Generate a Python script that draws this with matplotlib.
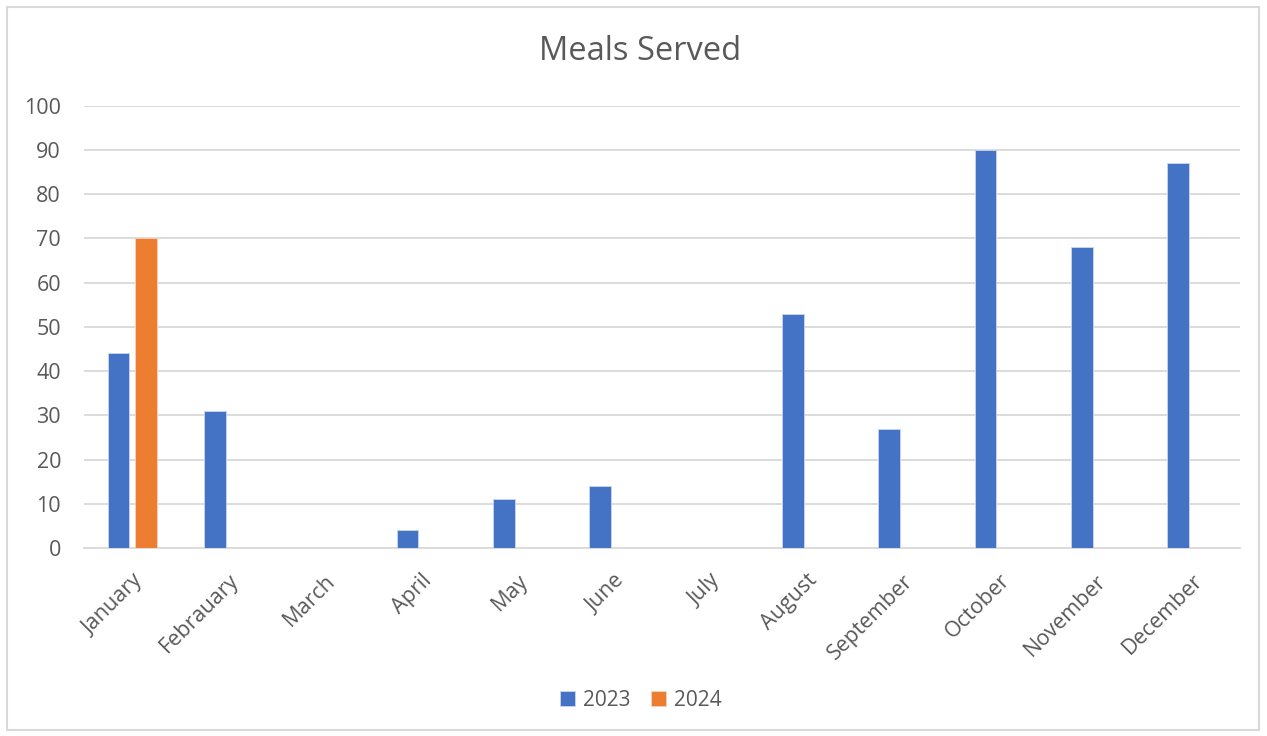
import numpy as np
import matplotlib
import matplotlib.pyplot as plt
from matplotlib.patches import Rectangle

matplotlib.rcParams['font.family'] = ['Open Sans', 'DejaVu Sans']

# 数据
months = ['January', 'Febrauary', 'March', 'April', 'May', 'June',
          'July', 'August', 'September', 'October', 'November', 'December']
meals_2023 = [44, 31, 0, 4, 11, 14, 0, 53, 27, 90, 68, 87]
meals_2024 = [70, 0, 0, 0, 0, 0, 0, 0, 0, 0, 0, 0]
series_names = ['2023', '2024']

W, H = 1267, 736
fig = plt.figure(figsize=(W / 100, H / 100), dpi=100)

# 外框
fig.patches.append(Rectangle((7 / W, 6 / H), 1252 / W, 723 / H,
                             transform=fig.transFigure, fill=False,
                             edgecolor='#d9d9d9', linewidth=1.5))

ax = fig.add_axes([84 / W, (H - 548) / H, (1240 - 84) / W, (548 - 105.7) / H])

text_color = '#595959'
x = np.arange(len(months))
width = 0.225
offset = 0.143
ax.bar(x - offset, meals_2023, width, color='#4472c4', edgecolor='#c9d6ef',
       linewidth=0.6, label=series_names[0], zorder=3)
vals_2024 = np.array(meals_2024, dtype=float)
ax.bar(x[vals_2024 > 0] + offset, vals_2024[vals_2024 > 0], width, color='#ed7d31',
       edgecolor='#f8d3bb', linewidth=0.6, label=series_names[1], zorder=3)

ax.set_xlim(-0.5, len(months) - 0.5)
ax.set_ylim(0, 100)
ax.set_yticks(np.arange(0, 101, 10))
ax.grid(axis='y', color='#d9d9d9', linewidth=1.3, zorder=0)
for s in ['top', 'right', 'left']:
    ax.spines[s].set_visible(False)
ax.spines['bottom'].set_color('#d9d9d9')
ax.spines['bottom'].set_linewidth(1.3)
ax.tick_params(length=0, colors=text_color, labelsize=15.5)
ax.tick_params(axis='y', pad=16.5)
ax.set_xticks(x)
ax.set_xticklabels(months, rotation=45, ha='right', rotation_mode='anchor')
ax.tick_params(axis='x', pad=16)

fig.text(0.505, (H - 52) / H, 'Meals Served', ha='center', va='center',
         fontsize=23.5, color=text_color)

leg = fig.legend(loc='center', bbox_to_anchor=(0.506, (H - 700) / H), ncol=2,
                 frameon=False, fontsize=15, handlelength=0.7, handleheight=0.7,
                 handletextpad=0.4, columnspacing=1.0)
for t in leg.get_texts():
    t.set_color(text_color)

plt.savefig('out.png', dpi=100)
plt.close()
